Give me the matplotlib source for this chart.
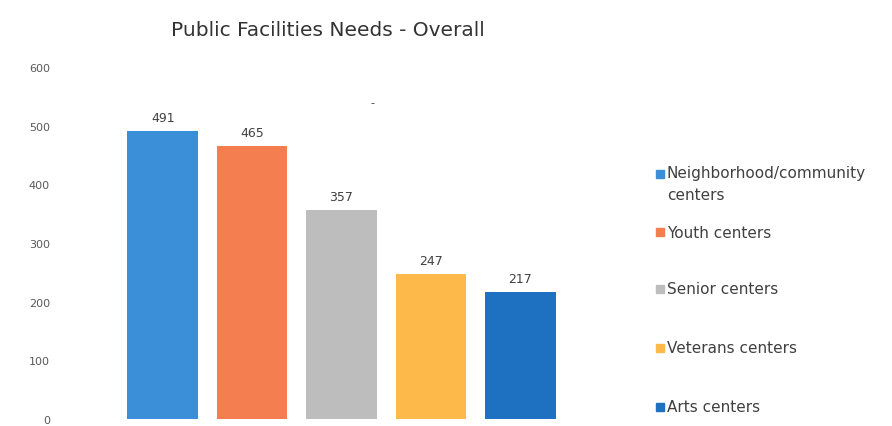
import matplotlib.pyplot as plt
from matplotlib.patches import Rectangle

categories = ['Neighborhood/community\ncenters', 'Youth centers', 'Senior centers',
              'Veterans centers', 'Arts centers']
values = [491, 465, 357, 247, 217]
colors = ['#3b8fd8', '#f57e50', '#bdbdbd', '#fdb94a', '#1e70c1']
yticks = [0, 100, 200, 300, 400, 500, 600]

fig = plt.figure(figsize=(8.92, 4.27), dpi=100)
ax = fig.add_axes([118 / 892, 1 - 420 / 427, (565 - 118) / 892, (420 - 68) / 427])

x = range(len(values))
ax.bar(x, values, width=0.79, color=colors)
for xi, v in zip(x, values):
    ax.text(xi, v + 12, str(v), ha='center', va='bottom', fontsize=9, color='#404040')

ax.set_xlim(-0.5, 4.5)
ax.set_ylim(0, 600)
ax.set_yticks(yticks)
ax.set_yticklabels([str(t) for t in yticks], fontsize=8, color='#595959')
ax.tick_params(axis='y', length=0, pad=49)
ax.set_xticks([])
for s in ax.spines.values():
    s.set_visible(False)

fig.text(328 / 892, 1 - 30 / 427, 'Public Facilities Needs - Overall', ha='center', va='center',
         fontsize=14.5, color='#333333')
fig.text(372 / 892, 1 - 103 / 427, '-', ha='center', va='center', fontsize=8, color='#404040')

# legend drawn by hand to match the spacing
leg_y = [175, 233, 290, 349, 408]
for lbl, c, yy in zip(categories, colors, leg_y):
    fig.add_artist(Rectangle((656 / 892, 1 - (yy + 4) / 427), 8 / 892, 8 / 427,
                             transform=fig.transFigure, color=c))
    if '\n' in lbl:
        fig.text(667 / 892, 1 - (yy - 9) / 427, lbl, ha='left', va='top',
                 fontsize=11, color='#404040', linespacing=1.6)
    else:
        fig.text(667 / 892, 1 - yy / 427, lbl, ha='left', va='center',
                 fontsize=11, color='#404040')

fig.savefig('out.png', dpi=100, facecolor='white')
